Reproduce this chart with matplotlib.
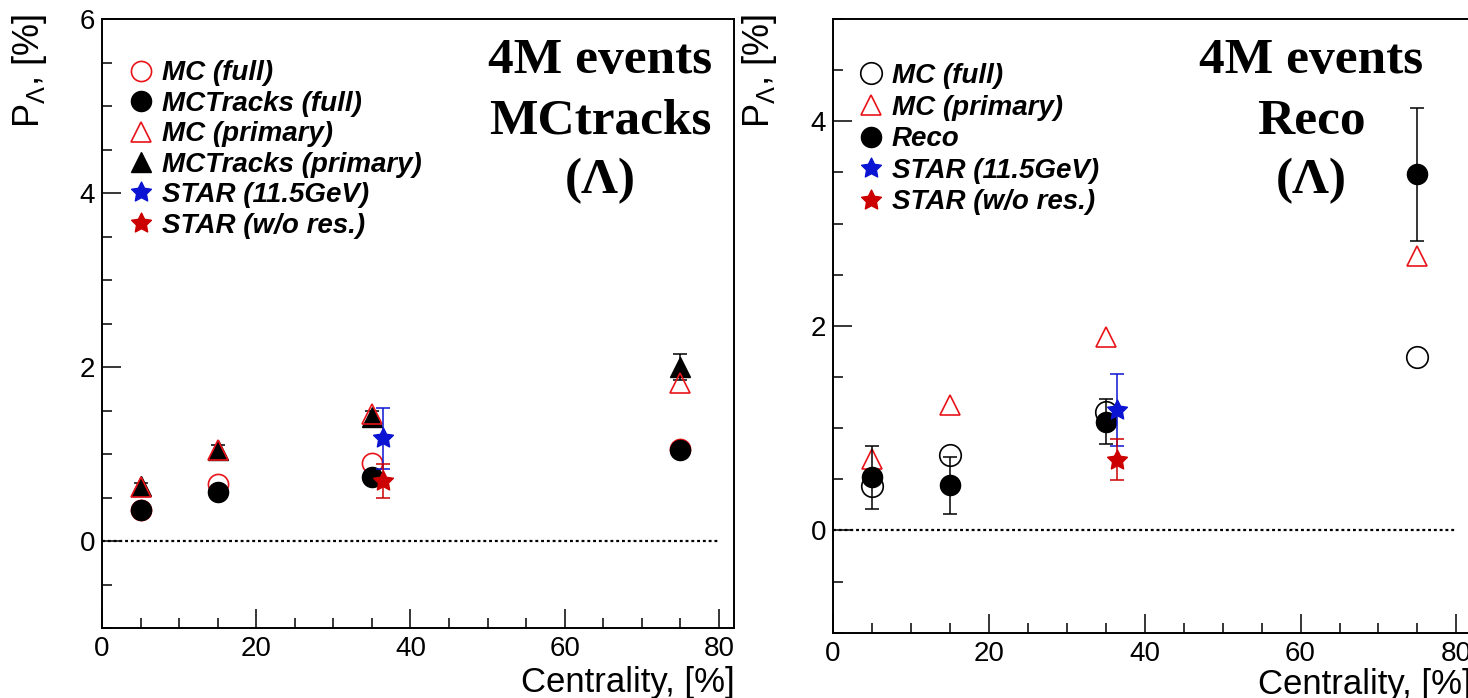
import matplotlib
matplotlib.use("Agg")
import matplotlib.pyplot as plt
from matplotlib.ticker import MultipleLocator
from matplotlib.path import Path
import numpy as np

# ---------------- data ----------------
centrality = [5, 15, 35, 75]
star_centrality = [36.5]

# left panel: MCtracks
mc_full_L = [0.36, 0.65, 0.90, 1.06]
mctracks_full_L = [0.36, 0.56, 0.73, 1.05]
mc_primary_L = [0.62, 1.05, 1.46, 1.82]
mctracks_primary_L = [0.63, 1.05, 1.43, 2.00]
mctracks_primary_err_L = [0.04, 0.05, 0.07, 0.15]

# STAR reference points
star_115 = [1.18]
star_115_err = [0.35]
star_wo = [0.69]
star_wo_err = [0.20]

# right panel: Reco
mc_full_R = [0.43, 0.74, 1.16, 1.70]
mc_primary_R = [0.70, 1.23, 1.89, 2.68]
reco_R = [0.52, 0.44, 1.06, 3.48]
reco_err_R = [0.31, 0.28, 0.22, 0.65]

labels_L = ["MC (full)", "MCTracks (full)", "MC (primary)", "MCTracks (primary)",
            "STAR (11.5GeV)", "STAR (w/o res.)"]
labels_R = ["MC (full)", "MC (primary)", "Reco", "STAR (11.5GeV)", "STAR (w/o res.)"]
titles_L = ["4M events", "MCtracks", "(\u039b)"]
titles_R = ["4M events", "Reco", "(\u039b)"]

SANS = "Liberation Sans"
SERIF = "Liberation Serif"
RED = "#e8141a"
BLUE = "#0a14d2"
DRED = "#cc0000"

plt.rcParams.update({"mathtext.fontset": "custom", "mathtext.rm": SANS,
                     "mathtext.it": SANS + ":italic", "mathtext.sf": SANS})

# chunky ROOT-like five point star marker
_ang = np.pi / 2 + np.arange(10) * np.pi / 5
_rad = np.where(np.arange(10) % 2 == 0, 1.0, 0.5)
_v = np.column_stack([_rad * np.cos(_ang), _rad * np.sin(_ang)])
STAR = Path(np.vstack([_v, _v[:1]]), closed=True)

W, H = 1468, 698
fig = plt.figure(figsize=(W / 100, H / 100), dpi=100)


def px_axes(x0, y0, x1, y1):
    return fig.add_axes([x0 / W, 1 - y1 / H, (x1 - x0) / W, (y1 - y0) / H])


axL = px_axes(102, 19, 734.3, 628)
axR = px_axes(833, 19, 1472, 632.7)


def style(ax, ylim):
    ax.set_xlim(0, 82)
    ax.set_ylim(*ylim)
    ax.xaxis.set_major_locator(MultipleLocator(20))
    ax.xaxis.set_minor_locator(MultipleLocator(5))
    ax.yaxis.set_major_locator(MultipleLocator(2))
    ax.yaxis.set_minor_locator(MultipleLocator(0.5))
    ax.tick_params(which="both", direction="in", top=False, right=False,
                   width=1.1, color="black")
    ax.tick_params(which="major", length=13.7, labelsize=20, pad=5)
    ax.tick_params(axis="x", which="major", pad=6)
    ax.tick_params(which="minor", length=7.5)
    for lab in ax.get_xticklabels() + ax.get_yticklabels():
        lab.set_fontfamily(SANS)
    for sp in ax.spines.values():
        sp.set_linewidth(1.4)
    ax.plot([0, 80], [0, 0], color="black", lw=1.6, ls=(0, (1.3, 1.3)), zorder=1)
    ax.set_xlabel("Centrality, [%]", loc="right", fontsize=25, fontfamily=SANS)
    ax.set_ylabel(r"P$_{\Lambda}$, [%]", loc="top", fontsize=26, fontfamily=SANS)


style(axL, (-1, 6))
style(axR, (-1, 5))
axL.xaxis.set_label_coords(1.0, -0.062)
axR.xaxis.set_label_coords(1.0, -0.057)
axL.yaxis.set_label_coords(-0.084, 1.008)
axR.yaxis.set_label_coords(-0.084, 1.008)

leg_prop = {"family": SANS, "weight": "bold", "style": "italic", "size": 20}

# ---------------- left panel ----------------
hL = []
hL += axL.plot(centrality, mc_full_L, ls="none", marker="o", ms=14.5, mfc="none",
               mec=RED, mew=1.2, label=labels_L[0], zorder=3)
hL += axL.plot(centrality, mctracks_full_L, ls="none", marker="o", ms=14.5, mfc="black",
               mec="black", label=labels_L[1], zorder=4)
axL.errorbar(centrality, mctracks_primary_L, yerr=mctracks_primary_err_L, fmt="none",
             ecolor="black", elinewidth=1.1, capsize=5, capthick=1.1, zorder=4)
hL += axL.plot(centrality, mctracks_primary_L, ls="none", marker="^", ms=14, mfc="black",
               mec="black", label=labels_L[3], zorder=5)
hL += axL.plot(centrality, mc_primary_L, ls="none", marker="^", ms=14, mfc="none",
               mec=RED, mew=1.2, label=labels_L[2], zorder=5)
axL.errorbar(star_centrality, star_115, yerr=star_115_err, fmt="none", ecolor=BLUE,
             elinewidth=1.1, capsize=5, capthick=1.1, zorder=6)
hL += axL.plot(star_centrality, star_115, ls="none", marker=STAR, ms=15, mfc=BLUE,
               mec=BLUE, label=labels_L[4], zorder=6)
axL.errorbar(star_centrality, star_wo, yerr=star_wo_err, fmt="none", ecolor=DRED,
             elinewidth=1.1, capsize=5, capthick=1.1, zorder=7)
hL += axL.plot(star_centrality, star_wo, ls="none", marker=STAR, ms=15, mfc=DRED,
               mec=DRED, label=labels_L[5], zorder=7)
order = [0, 1, 3, 2, 4, 5]
handlesL = [hL[i] for i in order]
axL.legend(handles=handlesL, labels=labels_L, loc="upper left",
           bbox_to_anchor=(0.0396, 0.932), borderaxespad=0, borderpad=0,
           frameon=False, handlelength=1.0, handletextpad=0.25,
           labelspacing=0.16, prop=leg_prop)

# ---------------- right panel ----------------
hR = []
hR += axR.plot(centrality, mc_full_R, ls="none", marker="o", ms=15.5, mfc="none",
               mec="black", mew=1.2, label=labels_R[0], zorder=3)
hR += axR.plot(centrality, mc_primary_R, ls="none", marker="^", ms=14.5, mfc="none",
               mec=RED, mew=1.2, label=labels_R[1], zorder=3)
axR.errorbar(centrality, reco_R, yerr=reco_err_R, fmt="none", ecolor="black",
             elinewidth=1.1, capsize=5, capthick=1.1, zorder=4)
hR += axR.plot(centrality, reco_R, ls="none", marker="o", ms=14.5, mfc="black",
               mec="black", label=labels_R[2], zorder=4)
axR.errorbar(star_centrality, star_115, yerr=star_115_err, fmt="none", ecolor=BLUE,
             elinewidth=1.1, capsize=5, capthick=1.1, zorder=6)
hR += axR.plot(star_centrality, star_115, ls="none", marker=STAR, ms=15, mfc=BLUE,
               mec=BLUE, label=labels_R[3], zorder=6)
axR.errorbar(star_centrality, star_wo, yerr=star_wo_err, fmt="none", ecolor=DRED,
             elinewidth=1.1, capsize=5, capthick=1.1, zorder=7)
hR += axR.plot(star_centrality, star_wo, ls="none", marker=STAR, ms=15, mfc=DRED,
               mec=DRED, label=labels_R[4], zorder=7)
axR.legend(handles=hR, labels=labels_R, loc="upper left",
           bbox_to_anchor=(0.0376, 0.928), borderaxespad=0, borderpad=0,
           frameon=False, handlelength=1.0, handletextpad=0.25,
           labelspacing=0.2, prop=leg_prop)

# ---------------- titles ----------------
for xc, lines in ((600, titles_L), (1311, titles_R)):
    for yb, t in zip((73, 134, 193), lines):
        fig.text(xc / W, 1 - yb / H, t, ha="center", va="baseline",
                 fontfamily=SERIF, fontweight="bold", fontsize=37)

fig.savefig("out.png", dpi=100)
